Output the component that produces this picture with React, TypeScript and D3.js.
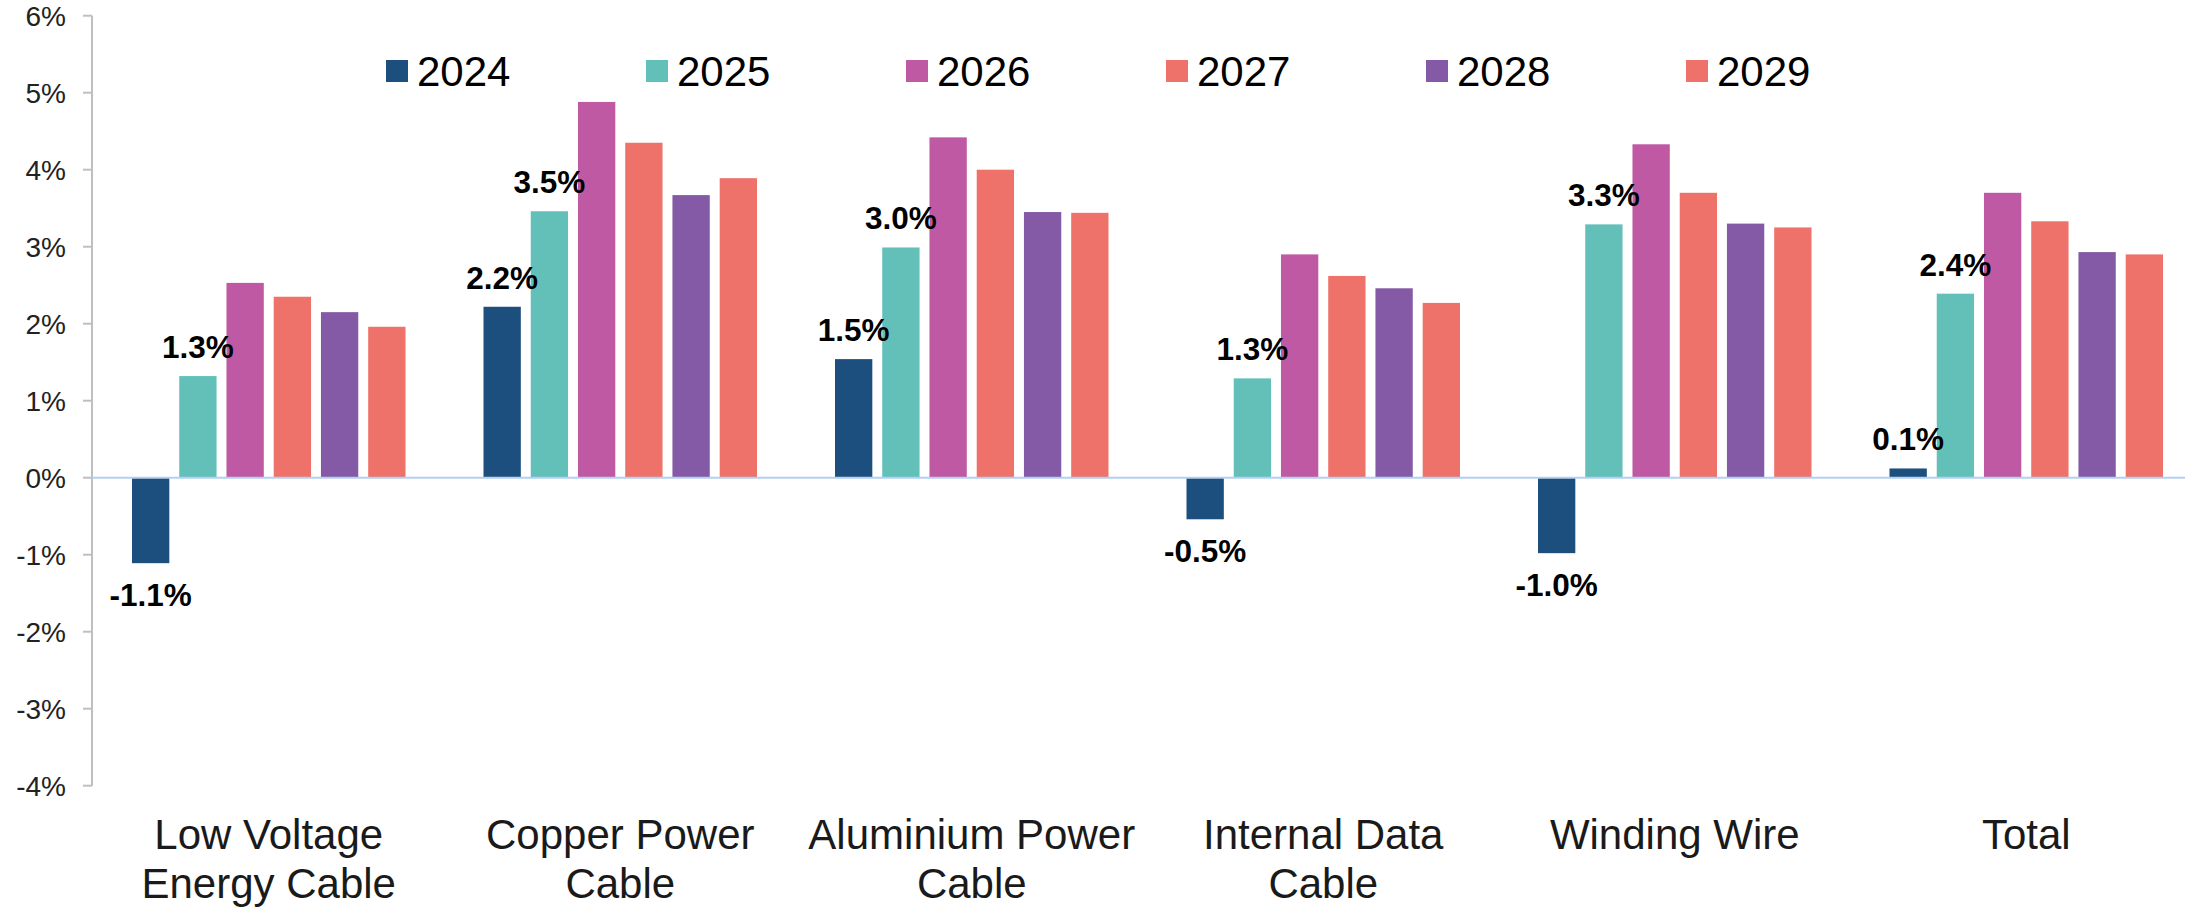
import React from "react";
import * as d3 from "d3";

const categories: string[][] = [
  ["Low Voltage", "Energy Cable"],
  ["Copper Power", "Cable"],
  ["Aluminium Power", "Cable"],
  ["Internal Data", "Cable"],
  ["Winding Wire"],
  ["Total"],
];
const years = ["2024", "2025", "2026", "2027", "2028", "2029"];
const colors = ["#1C4F7D", "#62C0B9", "#BF59A3", "#EF726A", "#8459A5", "#EF726A"];

const v2024 = [-1.11, 2.22, 1.54, -0.54, -0.98, 0.12];
const v2025 = [1.32, 3.46, 2.99, 1.29, 3.29, 2.39];
const v2026 = [2.53, 4.88, 4.42, 2.9, 4.33, 3.7];
const v2027 = [2.35, 4.35, 4.0, 2.62, 3.7, 3.33];
const v2028 = [2.15, 3.67, 3.45, 2.46, 3.3, 2.93];
const v2029 = [1.96, 3.89, 3.44, 2.27, 3.25, 2.9];
const series = [v2024, v2025, v2026, v2027, v2028, v2029];
const labeledSeries = [0, 1];

const yTicks = [-4, -3, -2, -1, 0, 1, 2, 3, 4, 5, 6];

const W = 2211;
const H = 907;
const FONT = "'Liberation Sans', Arial, sans-serif";

export default function App() {
  const catKeys = categories.map((c) => c.join(" "));
  const x0 = d3.scaleBand<string>().domain(catKeys).range([93, 2202]).padding(0);
  const bw = x0.bandwidth();
  const x1 = d3
    .scaleBand<string>()
    .domain(years)
    .range([39, bw - 39])
    .paddingInner(0.21)
    .paddingOuter(0);
  const y = d3.scaleLinear().domain([-4, 6]).range([785.7, 15.7]);
  const fmt = (v: number) => d3.format(".1f")(v).replace("\u2212", "-") + "%";
  const axisX = 92;

  return (
    <svg
      width={W}
      height={H}
      style={{ position: "absolute", left: 0, top: 0, display: "block", background: "#fff" }}
      fontFamily={FONT}
    >
      {/* y axis */}
      <line x1={axisX} x2={axisX} y1={y(6)} y2={y(-4)} stroke="#BFBFBF" strokeWidth={2} />
      {yTicks.map((t) => (
        <g key={t}>
          <line x1={axisX - 9} x2={axisX} y1={y(t)} y2={y(t)} stroke="#BFBFBF" strokeWidth={2} />
          <text
            x={66}
            y={y(t)}
            dy="0.35em"
            textAnchor="end"
            fontSize={28}
            fill="#222"
          >
            {t}%
          </text>
        </g>
      ))}

      {/* bars */}
      {catKeys.map((c, ci) => (
        <g key={c} transform={`translate(${x0(c)},0)`}>
          {series.map((vals, si) => {
            const v = vals[ci];
            const top = y(Math.max(0, v));
            const h = Math.abs(y(v) - y(0));
            return (
              <rect
                key={si}
                x={x1(years[si])}
                y={top}
                width={x1.bandwidth()}
                height={h}
                fill={colors[si]}
              />
            );
          })}
        </g>
      ))}

      {/* zero line */}
      <line x1={axisX} x2={2185} y1={y(0)} y2={y(0)} stroke="#B4CFF0" strokeWidth={2} />

      {/* data labels */}
      {catKeys.map((c, ci) =>
        labeledSeries.map((si) => {
          const v = series[si][ci];
          const cx = (x0(c) as number) + (x1(years[si]) as number) + x1.bandwidth() / 2;
          const ly = v >= 0 ? y(v) - 18 : y(v) + 43;
          return (
            <text
              key={`${c}-${si}`}
              x={cx}
              y={ly}
              textAnchor="middle"
              fontSize={31.5}
              fontWeight="bold"
              fill="#000"
            >
              {fmt(v)}
            </text>
          );
        })
      )}

      {/* category labels */}
      {categories.map((lines, ci) => (
        <text
          key={ci}
          x={(x0(catKeys[ci]) as number) + bw / 2}
          y={849}
          textAnchor="middle"
          fontSize={42}
          fill="#1a1a1a"
        >
          {lines.map((ln, li) => (
            <tspan key={li} x={(x0(catKeys[ci]) as number) + bw / 2} dy={li === 0 ? 0 : 48.5}>
              {ln}
            </tspan>
          ))}
        </text>
      ))}

      {/* legend */}
      {years.map((yr, i) => (
        <g key={yr} transform={`translate(${386 + i * 260},0)`}>
          <rect x={0} y={60} width={22} height={22} fill={colors[i]} />
          <text x={31} y={86} fontSize={42} fill="#000">
            {yr}
          </text>
        </g>
      ))}
    </svg>
  );
}
